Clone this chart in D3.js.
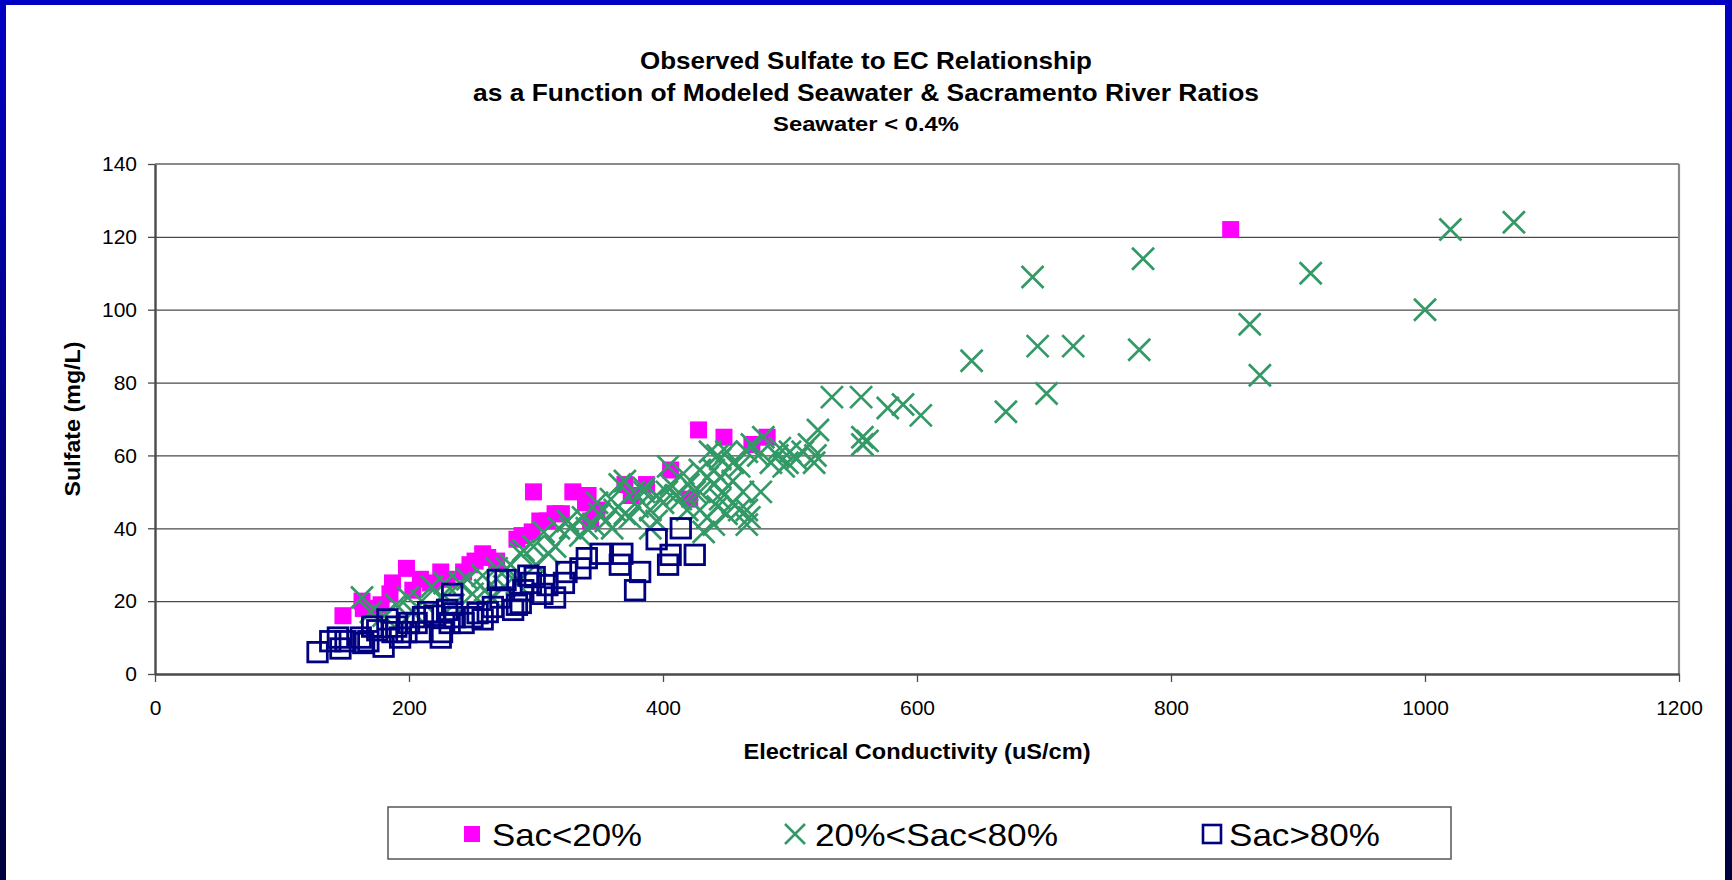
<!DOCTYPE html>
<html><head><meta charset="utf-8">
<script src="https://cdn.jsdelivr.net/npm/d3@7"></script>
<style>
html,body{margin:0;padding:0;background:#fff;}
svg{display:block;font-family:"Liberation Sans",Arial,sans-serif;}
</style></head>
<body>
<svg id="c" width="1732" height="880"></svg>
<script>
// ---------------- DATA ----------------
const titleLines = ["Observed Sulfate to EC Relationship", "as a Function of Modeled Seawater & Sacramento River Ratios"];
const subTitle = "Seawater < 0.4%";
const xTitle = "Electrical Conductivity (uS/cm)";
const yTitle = "Sulfate (mg/L)";
const xTicks = [0, 200, 400, 600, 800, 1000, 1200];
const yTicks = [0, 20, 40, 60, 80, 100, 120, 140];
const seriesNames = ["Sac<20%", "20%<Sac<80%", "Sac>80%"];

// Sac<20%  [EC, Sulfate]
const sacLow = [
  [148,16],[164,18],[163,20],[173,18],[178,19],[185,22],[187,25],[198,29],[203,23],[209,26],
  [217,25],[225,28],[230,26],[243,28],[248,30],[252,31],[258,33],[262,32],[269,31],[285,37],
  [289,38],[297,39],[298,50],[303,42],[309,42],[315,44],[320,44],[329,50],[339,47],[341,49],
  [343,42],[348,45],[370,52],[375,49],[387,52],[406,56],[421,48],[428,67],[448,65],[470,63],
  [482,65],[847,122]
];
// 20%<Sac<80%  [EC, Sulfate]
const sacMid = [
  [1070,124],[1020,122],[1000,100],[910,110],[862,96],[870,82],[778,114],[691,109],[643,86],[695,90],
  [723,90],[775,89],[702,77],[670,72],[603,71],[577,73],[589,74],[556,76],[533,76],[522,67],
  [557,65],[561,64],[557,63],[519,58],[510,61],[492,62],[479,65],[490,60],[498,58],[495,57],
  [466,61],[470,63],[455,58],[445,59],[443,60],[437,61],[450,61],[435,54],[440,52],[447,50],
  [455,53],[463,50],[477,50],[466,45],[455,47],[443,46],[435,43],[429,45],[432,39],[445,48],
  [450,44],[466,41],[468,43],[416,55],[406,52],[403,50],[414,48],[419,45],[395,49],[385,50],
  [385,51],[380,46],[374,43],[362,45],[359,48],[348,47],[350,44],[337,43],[325,42],[318,40],
  [306,39],[327,40],[298,35],[288,33],[277,29],[366,52],[370,53],[377,50],[404,57],[429,56],
  [429,50],[290,34],[280,30],[269,29],[258,27],[246,26],[240,25],[228,25],[218,24],[199,21],
  [203,17],[180,16],[163,21],[170,17],[190,19],[210,20],[225,21],[235,19],[250,22],[260,23],
  [265,21],[275,24],[285,25],[300,30],[310,33],[315,35],[335,38],[340,40],[345,41],[355,42],
  [360,40],[370,44],[390,45],[395,42],[400,47],[410,49],[420,52],[425,50],[440,56],[445,54],
  [460,57],[475,60],[485,58],[500,61],[505,59],[515,63],[520,60],[440,41],[460,45],[390,40]
];
// Sac>80%  [EC, Sulfate]
const sacHigh = [
  [128,6],[138,9],[144,10],[146,7],[150,9],[162,10],[164,8.5],[168,9],[171,13],[175,12],
  [180,7.5],[183,15],[187,11.5],[190,13],[193,10],[198,11.5],[200,14],[206,14],[209,11.5],[211,15.6],
  [215,17],[220,16],[225,10],[226,11.5],[230,17.6],[232,14],[234,22],[234,19],[236,15.6],[243,14],
  [250,15.6],[254,16.7],[258,15],[262,17],[266,18.4],[270,25.8],[272,21],[276,25.8],[282,17.6],[285,19],
  [288,19.5],[290,23],[294,27],[296,25],[299,26.6],[305,22],[309,24.4],[315,21],[322,25],[324,28],
  [335,29],[340,31.8],[351,33],[366,30],[368,33],[378,23],[382,28],[395,37],[404,30],[406,32.7],
  [414,40],[425,32.7]
];

// ---------------- DRAW ----------------
const svg = d3.select("#c");
const W = 1732, H = 880;
const defs = svg.append("defs");
const grad = defs.append("linearGradient").attr("id","bg").attr("x1",0).attr("y1",0).attr("x2",0).attr("y2",1);
grad.append("stop").attr("offset","0%").attr("stop-color","#0000c4");
grad.append("stop").attr("offset","100%").attr("stop-color","#00003c");
svg.append("rect").attr("width",W).attr("height",H).attr("fill","url(#bg)");
svg.append("rect").attr("x",6).attr("y",5).attr("width",1719).attr("height",H-5).attr("fill","#fff");

const L = 155, R = 1679, T = 164, B = 674;
const x = d3.scaleLinear().domain([0,1200]).range([L,R]);
const y = d3.scaleLinear().domain([0,140]).range([B,T]);

// gridlines
svg.append("g").attr("transform",`translate(${L},0)`)
  .call(d3.axisLeft(y).tickValues(yTicks.slice(1,-1)).tickSize(-(R-L)).tickFormat(""))
  .call(g=>g.select(".domain").remove())
  .call(g=>g.selectAll("line").attr("stroke","#4a4a4a").attr("stroke-width",1.3));

// plot frame top/right
svg.append("line").attr("x1",L).attr("x2",R).attr("y1",T).attr("y2",T).attr("stroke","#8a8a8a").attr("stroke-width",2.2);
svg.append("line").attr("x1",R).attr("x2",R).attr("y1",T).attr("y2",B).attr("stroke","#8a8a8a").attr("stroke-width",2.2);

// y axis
const ya = svg.append("g").attr("transform",`translate(${L},0)`)
  .call(d3.axisLeft(y).tickValues(yTicks).tickSize(7).tickPadding(11).tickSizeOuter(0).tickFormat(d3.format("d")));
ya.select(".domain").attr("stroke","#4a4a4a").attr("stroke-width",2.4);
ya.selectAll(".tick line").attr("stroke","#4a4a4a").attr("stroke-width",1.3);
ya.selectAll("text").attr("font-size",21).attr("fill","#000").attr("font-family","Liberation Sans, Arial");

// x axis
const xa = svg.append("g").attr("transform",`translate(0,${B})`)
  .call(d3.axisBottom(x).tickValues(xTicks).tickSize(8).tickPadding(18).tickSizeOuter(0).tickFormat(d3.format("d")));
xa.select(".domain").attr("stroke","#4a4a4a").attr("stroke-width",2.4);
xa.selectAll(".tick line").attr("stroke","#4a4a4a").attr("stroke-width",1.3);
xa.selectAll("text").attr("font-size",21).attr("fill","#000").attr("font-family","Liberation Sans, Arial");

// markers
const gLow = svg.append("g");
const sLow = 17;
gLow.selectAll("rect").data(sacLow).join("rect")
  .attr("x",d=>x(d[0])-sLow/2).attr("y",d=>y(d[1])-sLow/2)
  .attr("width",sLow).attr("height",sLow).attr("fill","#ff00ff");

const hx = 11;
const xPath = (cx,cy,h)=>`M${cx-h},${cy-h}L${cx+h},${cy+h}M${cx-h},${cy+h}L${cx+h},${cy-h}`;
svg.append("g").selectAll("path").data(sacMid).join("path")
  .attr("d",d=>xPath(x(d[0]),y(d[1]),hx))
  .attr("stroke","#339966").attr("stroke-width",2.7).attr("fill","none");

const sHigh = 19.5;
svg.append("g").selectAll("rect").data(sacHigh).join("rect")
  .attr("x",d=>x(d[0])-sHigh/2).attr("y",d=>y(d[1])-sHigh/2)
  .attr("width",sHigh).attr("height",sHigh).attr("fill","none")
  .attr("stroke","#000080").attr("stroke-width",2.8);

// titles
const cx = 866;
svg.append("text").attr("x",cx).attr("y",69).attr("text-anchor","middle")
  .attr("font-size",24.5).attr("font-weight","bold").attr("textLength",452).attr("lengthAdjust","spacingAndGlyphs")
  .text(titleLines[0]);
svg.append("text").attr("x",cx).attr("y",101).attr("text-anchor","middle")
  .attr("font-size",24.5).attr("font-weight","bold").attr("textLength",786).attr("lengthAdjust","spacingAndGlyphs")
  .text(titleLines[1]);
svg.append("text").attr("x",cx).attr("y",131).attr("text-anchor","middle")
  .attr("font-size",19.5).attr("font-weight","bold").attr("textLength",186).attr("lengthAdjust","spacingAndGlyphs")
  .text(subTitle);

// axis titles
svg.append("text").attr("x",(L+R)/2).attr("y",759).attr("text-anchor","middle")
  .attr("font-size",22).attr("font-weight","bold").attr("textLength",347).attr("lengthAdjust","spacingAndGlyphs")
  .text(xTitle);
svg.append("text").attr("transform",`translate(80,${(T+B)/2}) rotate(-90)`).attr("text-anchor","middle")
  .attr("font-size",22).attr("font-weight","bold").attr("textLength",155).attr("lengthAdjust","spacingAndGlyphs")
  .text(yTitle);

// legend
const lg = svg.append("g");
lg.append("rect").attr("x",388).attr("y",807).attr("width",1451-388).attr("height",52)
  .attr("fill","#fff").attr("stroke","#555").attr("stroke-width",1.5);
const legItems = [
  {name:seriesNames[0], mx:472, tx:492, tw:150, type:"low"},
  {name:seriesNames[1], mx:795, tx:815, tw:243, type:"mid"},
  {name:seriesNames[2], mx:1212, tx:1229, tw:151, type:"high"}
];
const ly = 834;
legItems.forEach(it=>{
  if(it.type==="low"){
    lg.append("rect").attr("x",it.mx-8).attr("y",ly-8).attr("width",16).attr("height",16).attr("fill","#ff00ff");
  } else if(it.type==="mid"){
    lg.append("path").attr("d",xPath(it.mx,ly,10)).attr("stroke","#339966").attr("stroke-width",2.5).attr("fill","none");
  } else {
    lg.append("rect").attr("x",it.mx-9).attr("y",ly-9).attr("width",18).attr("height",18)
      .attr("fill","none").attr("stroke","#000080").attr("stroke-width",2.6);
  }
  lg.append("text").attr("x",it.tx).attr("y",ly+11.5).attr("font-size",32)
    .attr("textLength",it.tw).attr("lengthAdjust","spacingAndGlyphs").text(it.name);
});
</script>
</body></html>
